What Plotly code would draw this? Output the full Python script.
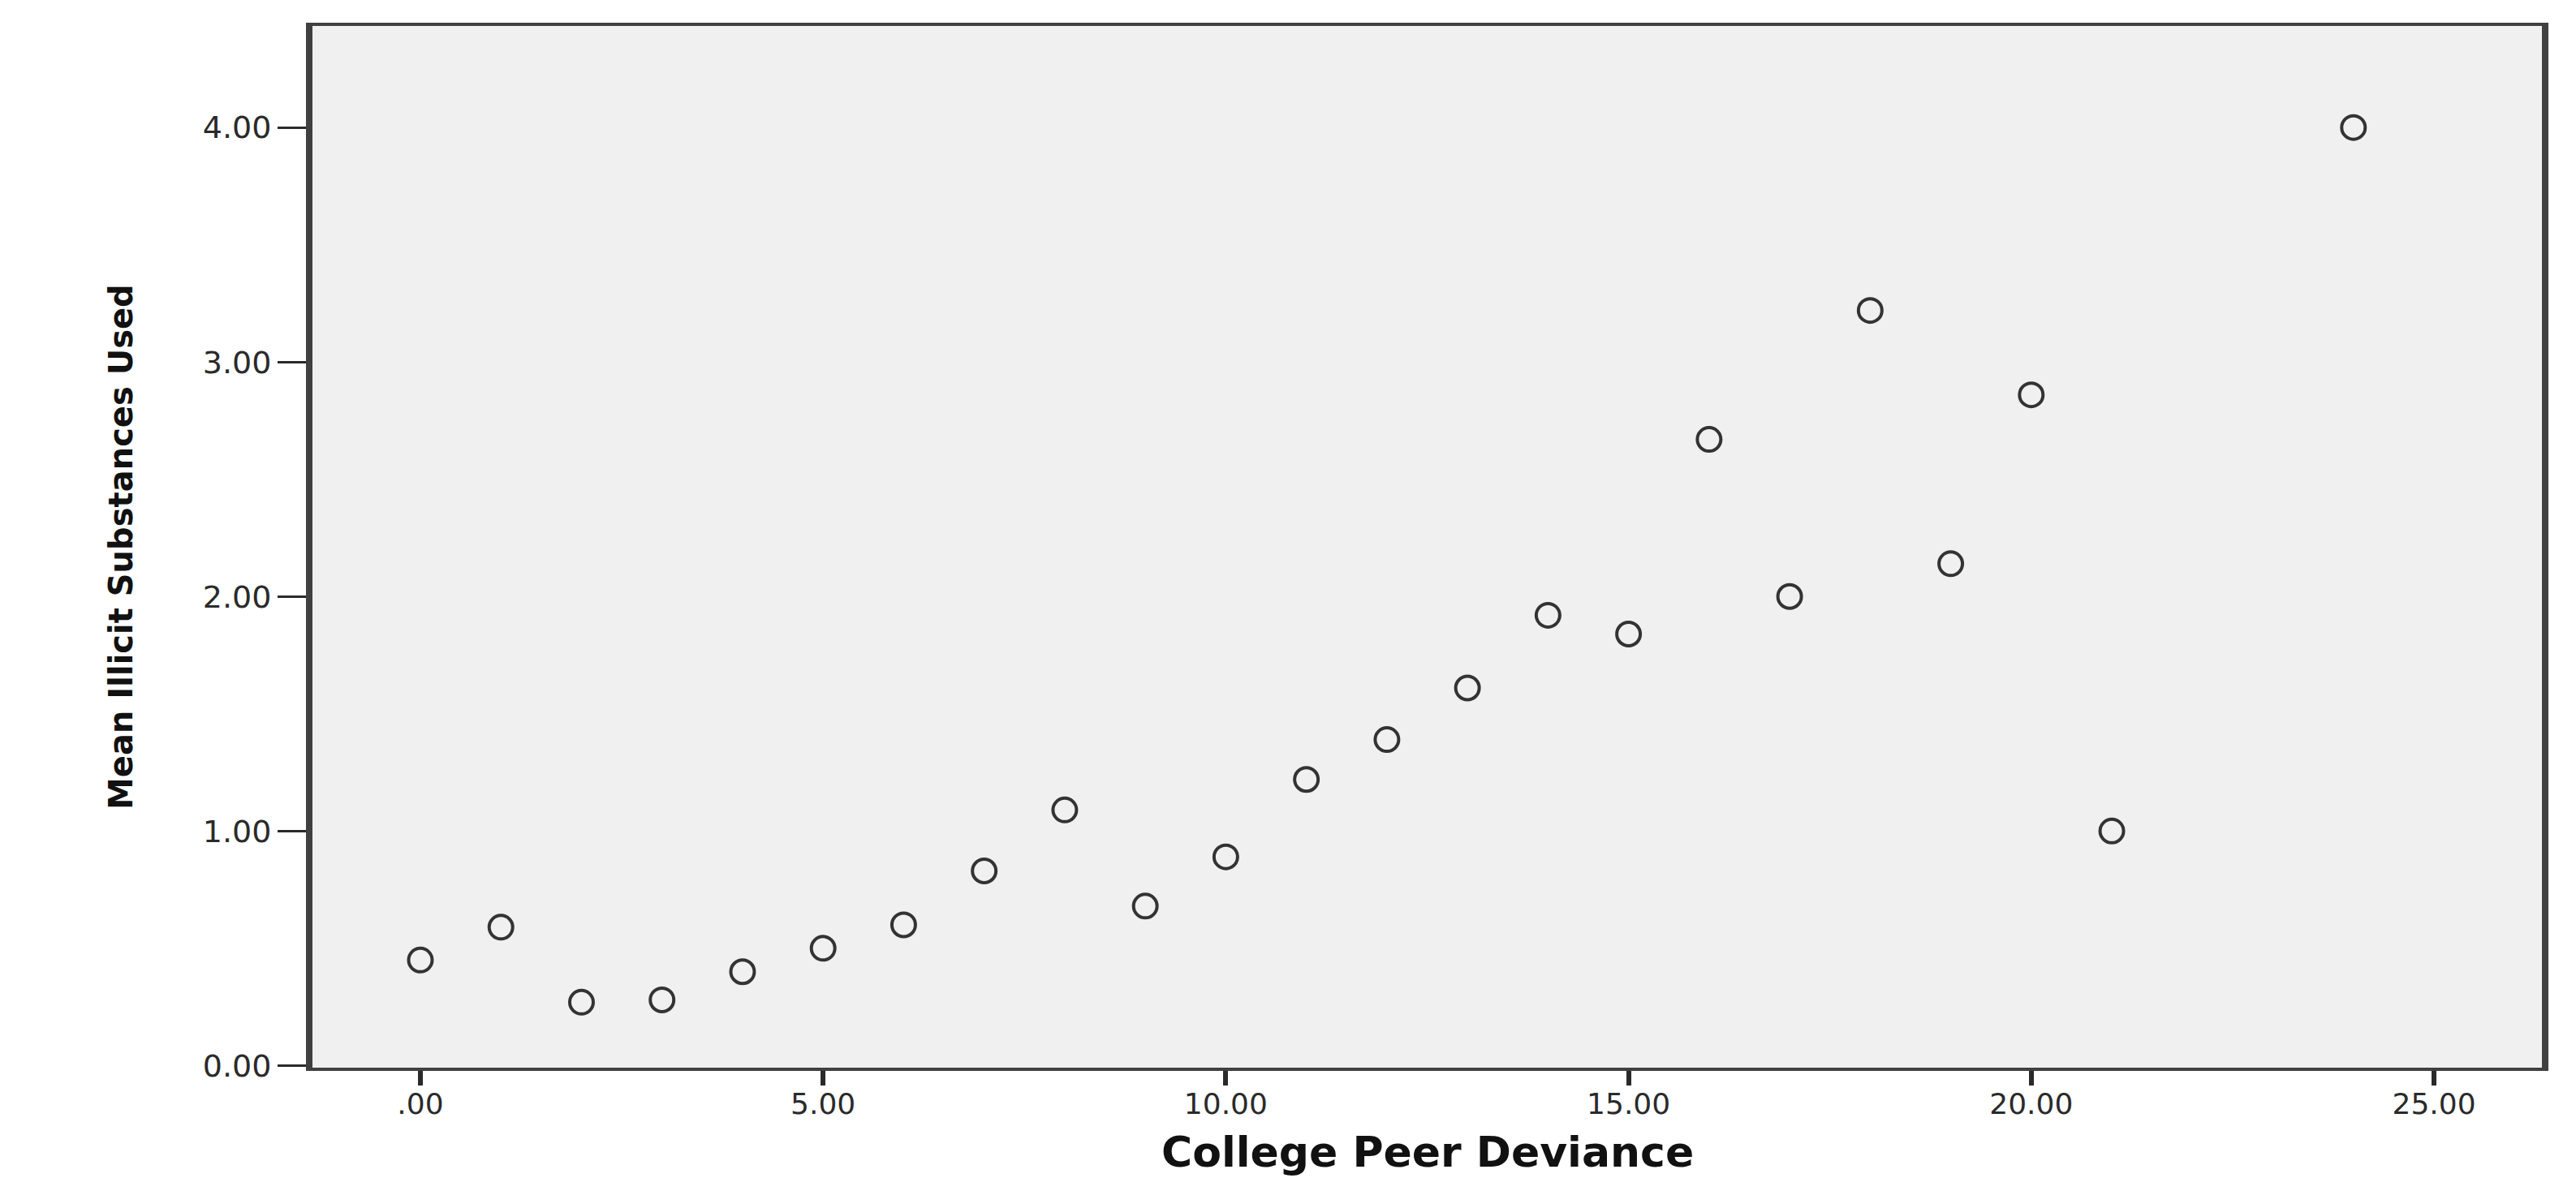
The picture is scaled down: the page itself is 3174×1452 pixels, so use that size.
import plotly.graph_objects as go

# Data
peer_deviance = [0, 1, 2, 3, 4, 5, 6, 7, 8, 9, 10, 11, 12, 13, 14, 15, 16, 17, 18, 19, 20, 21, 24]
mean_illicit = [0.45, 0.59, 0.27, 0.28, 0.40, 0.50, 0.60, 0.83, 1.09, 0.68, 0.89, 1.22,
                1.39, 1.61, 1.92, 1.84, 2.67, 2.00, 3.22, 2.14, 2.86, 1.00, 4.00]

x_tick_vals = [0, 5, 10, 15, 20, 25]
x_tick_text = [".00", "5.00", "10.00", "15.00", "20.00", "25.00"]
y_tick_vals = [0, 1, 2, 3, 4]
y_tick_text = ["0.00", "1.00", "2.00", "3.00", "4.00"]

x_title = "College Peer Deviance"
y_title = "Mean Illicit Substances Used"

W, H = 3174, 1452
L, R, T, B = 377, 50, 24, 144

fig = go.Figure()
fig.add_trace(go.Scatter(
    x=peer_deviance, y=mean_illicit, mode="markers",
    marker=dict(symbol="circle-open", size=29, color="#333333", line=dict(width=4, color="#333333")),
    showlegend=False, hoverinfo="skip",
))

axis_line = "#404040"
fig.update_xaxes(
    range=[-1.34, 26.34], tickvals=x_tick_vals, ticktext=x_tick_text,
    showgrid=False, zeroline=False,
    showline=True, linewidth=4, linecolor=axis_line, mirror=True,
    ticks="outside", ticklen=18, tickwidth=6, tickcolor="#2a2a2a",
    ticklabelstandoff=-8,
    tickfont=dict(family="DejaVu Sans", size=36, color="#2a2a2a"),
)
fig.update_yaxes(
    range=[-0.009, 4.433], tickvals=y_tick_vals, ticktext=y_tick_text,
    showgrid=False, zeroline=False,
    showline=True, linewidth=8, linecolor=axis_line, mirror=True,
    ticks="outside", ticklen=35, tickwidth=3, tickcolor="#2a2a2a",
    tickfont=dict(family="DejaVu Sans", size=38, color="#2a2a2a"),
)

fig.add_annotation(
    text="<b>" + x_title + "</b>", xref="paper", yref="paper",
    x=0.5, y=((H - B) - 1412) / (H - B - T), xanchor="center", yanchor="middle",
    showarrow=False, font=dict(family="DejaVu Sans", size=52, color="#111111"),
)
fig.add_annotation(
    text="<b>" + y_title + "</b>", xref="paper", yref="paper",
    x=(141 - L) / (W - L - R), y=0.5, xanchor="center", yanchor="middle",
    textangle=-90, showarrow=False,
    font=dict(family="DejaVu Sans", size=40, color="#111111"),
)

fig.update_layout(
    width=W, height=H, autosize=False,
    margin=dict(l=L, r=R, t=T, b=B, pad=0),
    paper_bgcolor="white", plot_bgcolor="#f0f0f0",
)

fig.write_html("out.html")
